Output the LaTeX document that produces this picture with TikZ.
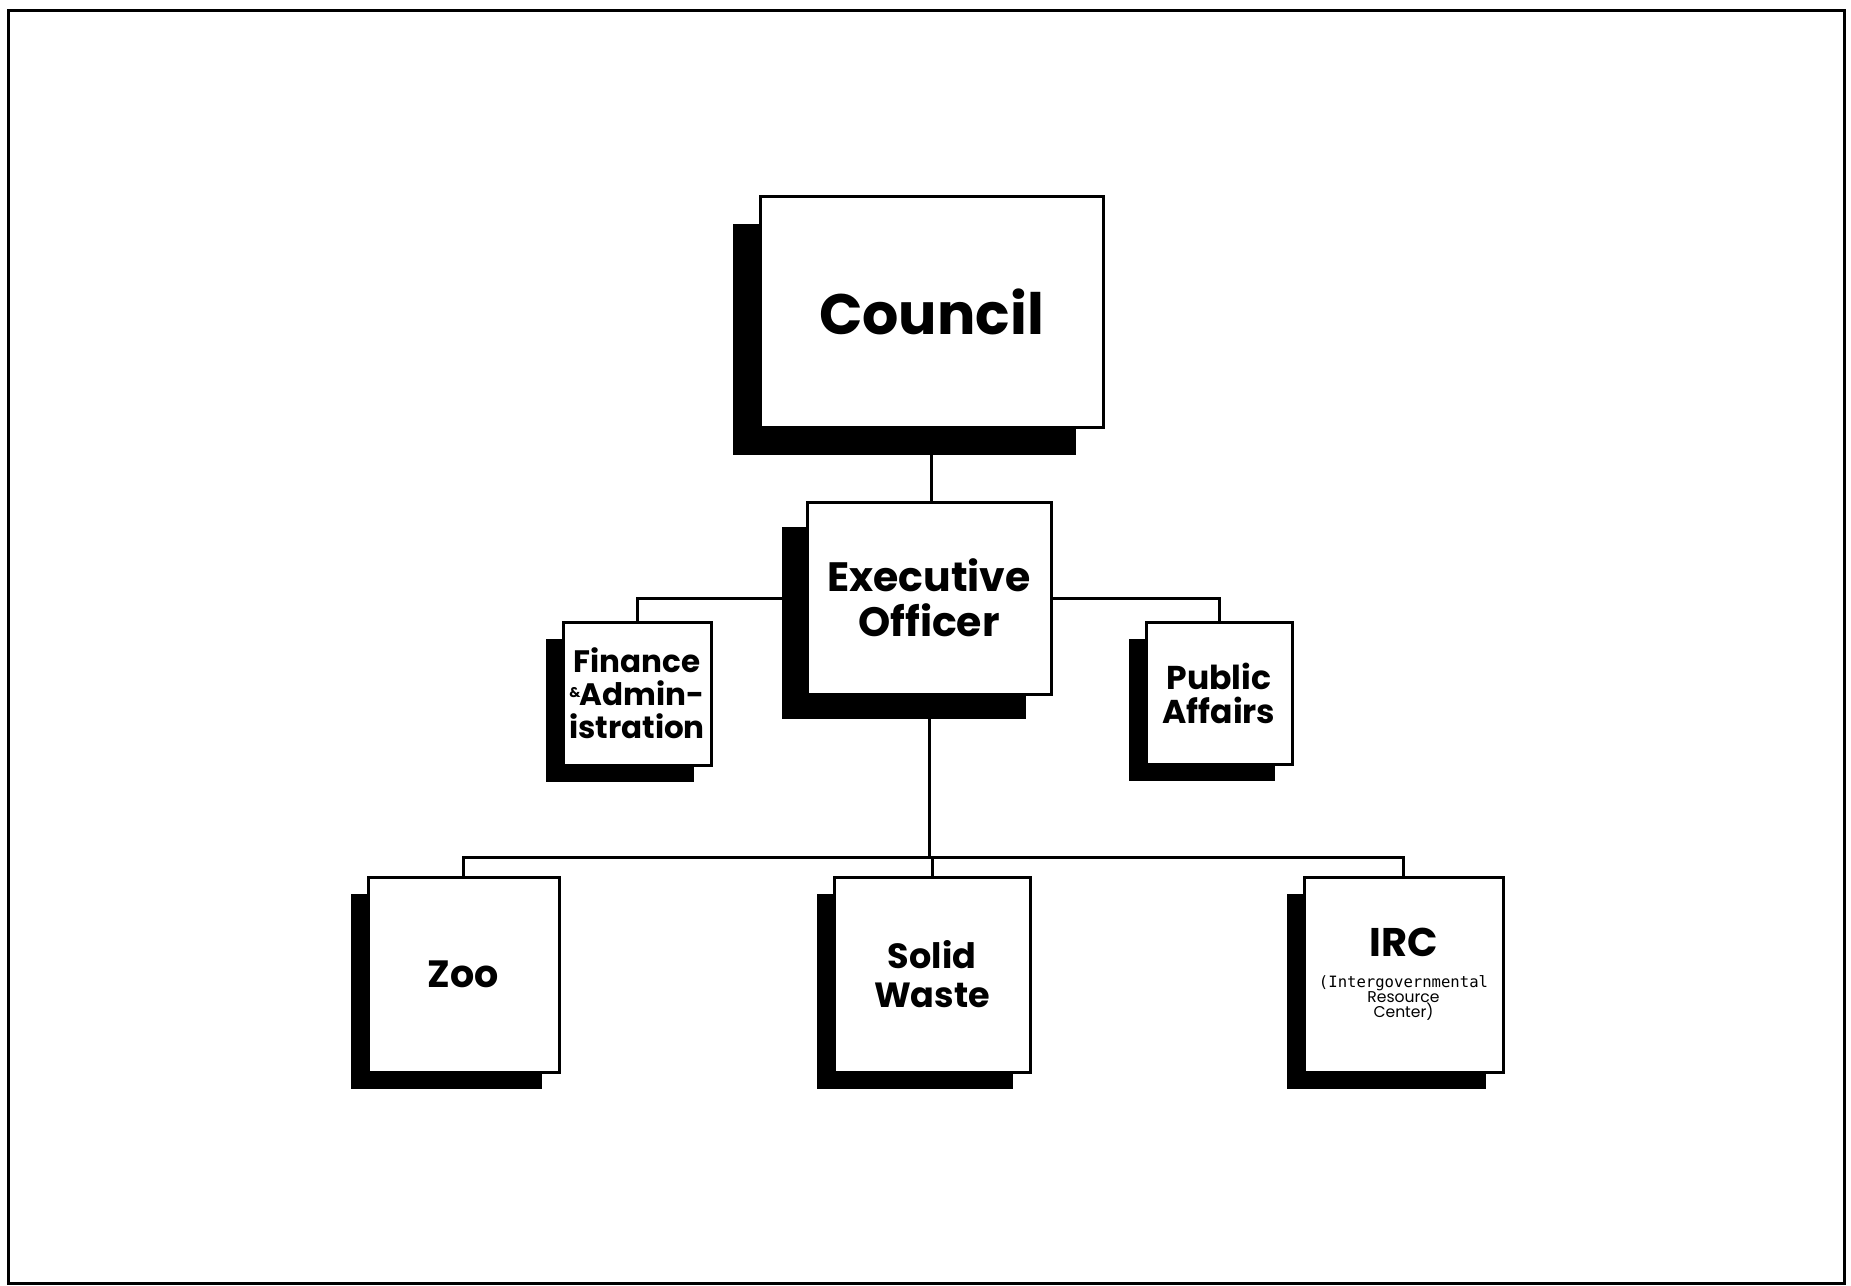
\documentclass[tikz,border=0pt]{standalone}
\usepackage{fontspec}
\setmainfont{Poppins}
\newfontfamily\monofnt{DejaVu Sans Mono}
\usetikzlibrary{shadows}
\begin{document}
\begin{tikzpicture}[x=0.5pt,y=-0.5pt,
  box/.style={draw, line width=1.5pt, fill=white, inner sep=0pt, align=center},
  bigshadow/.style={drop shadow={shadow xshift=-13.5pt, shadow yshift=-14pt, opacity=1, fill=black}},
  midshadow/.style={drop shadow={shadow xshift=-12.5pt, shadow yshift=-12.5pt, opacity=1, fill=black}},
  smallshadow/.style={drop shadow={shadow xshift=-8.5pt, shadow yshift=-8.5pt, opacity=1, fill=black}},
  conn/.style={line width=1.5pt},
]
\useasboundingbox (0,0) rectangle (1851,1285);
\draw[line width=1.5pt] (8,10) rectangle (1844,1283);

\node[box, bigshadow, minimum width=171.5pt, minimum height=115.5pt,
  font=\bfseries\fontsize{28.5}{30}\selectfont] (council) at (931.5,311.5) {Council};

\node[box, midshadow, minimum width=122pt, minimum height=96pt,
  font=\bfseries\fontsize{20.5}{22.5}\selectfont] (exec) at (929,598) {Executive\\Officer};

\node[box, smallshadow, minimum width=74pt, minimum height=71.5pt,
  font=\bfseries\fontsize{15.5}{16.5}\selectfont] (fin) at (637,693.5)
  {Finance\\{\fontsize{7}{7}\selectfont\raisebox{0.6em}{\&}}\kern-0.3pt Admin-\\istration};

\node[box, smallshadow, minimum width=73pt, minimum height=71pt,
  font=\bfseries\fontsize{16.5}{17}\selectfont] (pub) at (1219,693) {Public\\Affairs};

\node[box, smallshadow, minimum width=95.5pt, minimum height=97.5pt,
  font=\bfseries\fontsize{19}{20}\selectfont] (zoo) at (463.5,974.5) {Zoo};

\node[box, smallshadow, minimum width=98pt, minimum height=97.5pt,
  font=\bfseries\fontsize{17.5}{19.5}\selectfont] (sw) at (932,974.5) {Solid\\Waste};

\node[box, smallshadow, minimum width=99.5pt, minimum height=97.5pt,
  font=\fontsize{7.8}{7.5}\selectfont] (irc) at (1403.5,974.5)
  {\bfseries\fontsize{20}{20}\selectfont IRC\\[8pt]
   \mdseries\monofnt\fontsize{7.8}{7.5}\selectfont (Intergovernmental\\Resource\\Center)};

\coordinate (bar) at (929,857);

\draw[conn] (council.south) -- (council.south |- exec.north);
\draw[conn] (exec.west) -| (fin.north);
\draw[conn] (exec.east) -| (pub.north);
\draw[conn] (exec.south) -- (bar);
\draw[conn] (zoo.north) |- (bar) -| (irc.north);
\draw[conn] (bar) -- (bar -| sw.north) -- (sw.north);
\end{tikzpicture}
\end{document}
